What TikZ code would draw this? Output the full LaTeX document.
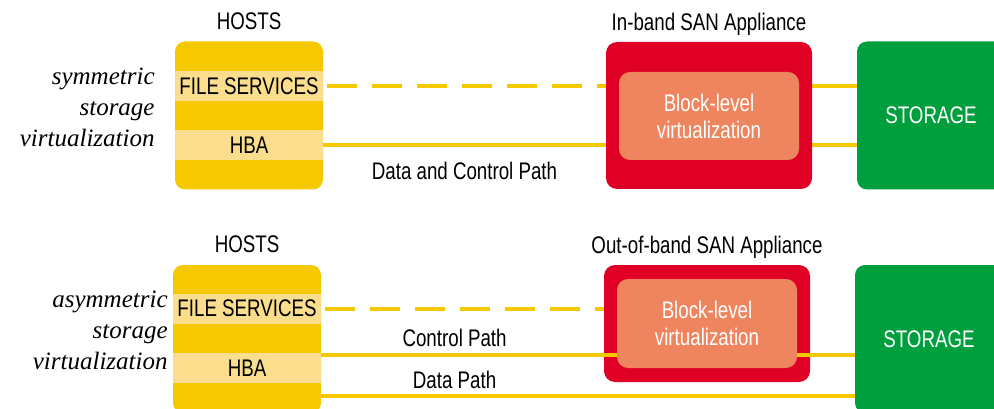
\documentclass[tikz,border=0pt]{standalone}
\usepackage{fontspec}
\setsansfont{Liberation Sans}[FakeStretch=0.78]
\newfontfamily\sidefont{Liberation Serif}
\usetikzlibrary{positioning}
\definecolor{hostyellow}{HTML}{F5C800}
\definecolor{bandyellow}{HTML}{FADE8E}
\definecolor{appred}{HTML}{E00025}
\definecolor{blksalmon}{HTML}{EE855F}
\definecolor{stogreen}{HTML}{009F3D}
\tikzset{
    txt/.style={font=\sffamily\fontsize{24}{27}\selectfont},
    pathlabel/.style={txt,black},
    title/.style={txt,inner sep=0pt,text depth=0pt},
    side/.style={font=\sidefont\itshape\fontsize{25}{31}\selectfont,align=right,inner sep=0pt},
    hostbox/.style={fill=hostyellow,rounded corners=10pt,minimum width=148pt,minimum height=148pt,inner sep=0pt},
    band/.style={txt,fill=bandyellow,minimum width=148pt,minimum height=30pt,inner sep=0pt},
    appbox/.style={fill=appred,rounded corners=11pt,minimum width=206pt,inner sep=0pt},
    blkbox/.style={txt,white,fill=blksalmon,rounded corners=11pt,minimum width=180pt,minimum height=88pt,align=center,inner sep=0pt},
    stobox/.style={txt,white,fill=stogreen,rounded corners=10pt,minimum width=148pt,minimum height=148pt,inner sep=0pt},
    wire/.style={hostyellow,line width=4pt},
    dashwire/.style={wire,dash pattern=on 30pt off 15pt,dash phase=-4pt}
}
\begin{document}
\begin{tikzpicture}[x=1pt,y=-1pt]
    \useasboundingbox (0,0) rectangle (994,409);
    \clip (0,0) rectangle (994,409);

    % symmetric
    \node[hostbox](host1)at(249,115.5){};
    \node[band](fs1)at(249,86){FILE SERVICES};
    \node[band](hba1)at(249,145){HBA};
    \node[appbox,minimum height=147pt](app1)at(709,115.5){};
    \node[stobox](sto1)at(931,115.5){STORAGE};
    \node[title,above=12pt of host1]{HOSTS};
    \node[title,above=11pt of app1]{In-band SAN Appliance};
    \node[side,left=20pt of host1,yshift=8pt]{symmetric\\storage\\virtualization};
    \draw[dashwire](fs1.east)--(fs1.east-|app1.west);
    \draw[wire](hba1.east)--(hba1.east-|app1.west)node[pathlabel,midway,below=12pt]{Data and Control Path};
    \draw[wire](fs1.east-|app1.east)--(fs1.east-|sto1.west);
    \draw[wire](hba1.east-|app1.east)--(hba1.east-|sto1.west);
    \node[blkbox](blk1)at(709,116){Block-level\\virtualization};

    % asymmetric
    \node[hostbox](host2)at(247,339){};
    \node[band](fs2)at(247,308.5){FILE SERVICES};
    \node[band](hba2)at(247,368){HBA};
    \node[appbox,minimum height=117pt](app2)at(707,323.5){};
    \node[stobox](sto2)at(929,339){STORAGE};
    \node[title,above=12pt of host2]{HOSTS};
    \node[title,above=11pt of app2]{Out-of-band SAN Appliance};
    \node[side,left=5pt of host2,yshift=9pt]{asymmetric\\storage\\virtualization};
    \draw[dashwire](fs2.east)--(fs2.east-|app2.west);
    \draw[wire]([yshift=-2pt]hba2.north east)--([yshift=-2pt]hba2.north east-|sto2.west)
        node[pathlabel,pos=0.25,above=3pt]{Control Path};
    \draw[wire]([yshift=-13pt]hba2.south east)--([yshift=-13pt]hba2.south east-|sto2.west)
        node[pathlabel,pos=0.25,above=2pt]{Data Path};
    \node[blkbox,minimum height=89pt](blk2)at(707,323.5){Block-level\\virtualization};
\end{tikzpicture}
\end{document}
